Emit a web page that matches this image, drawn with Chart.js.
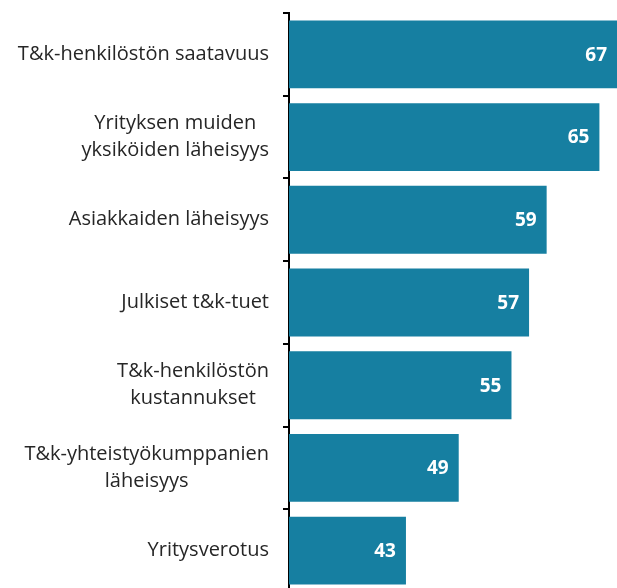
<!DOCTYPE html>
<html>
<head>
<meta charset="utf-8">
<script src="https://cdn.jsdelivr.net/npm/chart.js@4"></script>
<style>
  html, body { margin: 0; padding: 0; background: #fff; overflow: hidden; }
  #wrap { width: 617px; height: 592px; }
</style>
</head>
<body>
<div id="wrap"><canvas id="chart"></canvas></div>
<script>
const categories = [
  ['T&k-henkilöstön saatavuus'],
  ['Yrityksen muiden', 'yksiköiden läheisyys'],
  ['Asiakkaiden läheisyys'],
  ['Julkiset t&k-tuet'],
  ['T&k-henkilöstön', 'kustannukset'],
  ['T&k-yhteistyökumppanien', 'läheisyys'],
  ['Yritysverotus']
];
const values = [67, 65, 59, 57, 55, 49, 43];

const FONT = '"Open Sans", sans-serif';

// category labels: block right-aligned to the axis, lines centred inside the block
const labelPlugin = {
  id: 'labels',
  afterDraw(chart) {
    const ctx = chart.ctx;
    const y = chart.scales.y;
    ctx.save();
    ctx.font = '20px ' + FONT;
    ctx.fillStyle = '#262626';
    ctx.textAlign = 'center';
    ctx.textBaseline = 'middle';
    const lineH = 27;
    categories.forEach((lines, i) => {
      const yc = y.getPixelForValue(i);
      const w = Math.max(...lines.map(l => ctx.measureText(l).width));
      const cx = y.right - 20 - w / 2;
      const top = yc - (lines.length - 1) * lineH / 2;
      lines.forEach((l, j) => ctx.fillText(l, cx, top + j * lineH));
    });
    // values inside bar ends
    ctx.font = 'bold 19px ' + FONT;
    ctx.fillStyle = '#ffffff';
    ctx.textAlign = 'right';
    chart.getDatasetMeta(0).data.forEach((bar, i) => {
      ctx.fillText(values[i], bar.x - 10, bar.y + 1);
    });
    ctx.restore();
  }
};

new Chart(document.getElementById('chart'), {
  type: 'bar',
  data: {
    labels: categories,
    datasets: [{
      data: values,
      backgroundColor: '#167fa1',
      borderWidth: 0,
      barPercentage: 0.82,
      categoryPercentage: 1
    }]
  },
  plugins: [labelPlugin],
  options: {
    indexAxis: 'y',
    responsive: true,
    maintainAspectRatio: false,
    animation: false,
    layout: { padding: { top: 13, right: 0, bottom: 0, left: 0 } },
    plugins: { legend: { display: false }, tooltip: { enabled: false } },
    scales: {
      x: {
        display: false,
        min: 29.7,
        max: 67
      },
      y: {
        afterFit(scale) { scale.width = 289; },
        ticks: { display: false },
        grid: {
          offset: true,
          drawOnChartArea: false,
          drawTicks: true,
          tickLength: 6,
          color: '#000',
          lineWidth: 2
        },
        border: { display: true, color: '#000', width: 2 }
      }
    }
  }
});
</script>
</body>
</html>
